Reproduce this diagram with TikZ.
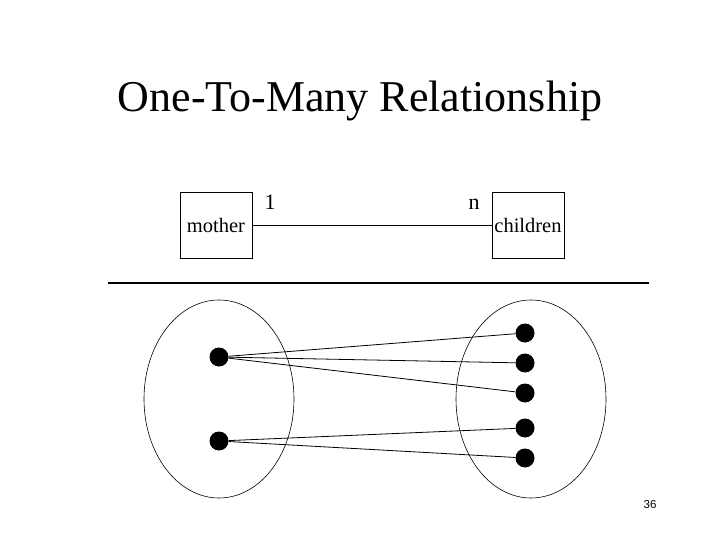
\documentclass[tikz,border=0pt]{standalone}
\usepackage{fontspec}
\setmainfont{Liberation Serif}
\setsansfont{Liberation Sans}
\usepackage{tikz}
\usetikzlibrary{shapes.geometric, positioning}

\begin{document}
\begin{tikzpicture}[
        x=1pt, y=-1pt,
        entity/.style={rectangle, draw, line width=0.8pt, minimum width=72pt, minimum height=66pt, inner sep=0pt, font=\fontsize{20.5}{24}\selectfont},
        card/.style={anchor=base, inner sep=0pt, font=\fontsize{22}{26}\selectfont},
        set/.style={ellipse, draw, line width=0.6pt, minimum width=150pt, minimum height=198pt, inner sep=0pt},
        dot/.style={circle, fill=black, minimum size=19pt, inner sep=0pt},
        link/.style={line width=0.8pt}
    ]
    \useasboundingbox (0,0) rectangle (720,540);

    \node (title) [anchor=base, font=\fontsize{44}{52}\selectfont] at (360,112) {One-To-Many Relationship};

    \node (mother) [entity] at (216,225) {mother};
    \node (children) [entity] at (528,225) {children};
    \node (one) [card] at (270,210) {1};
    \node (many) [card] at (474,210) {n};
    \draw[link] (mother) -- (children);

    \coordinate (sepL) at (108,283);
    \coordinate (sepR) at (649,283);
    \draw[line width=1.4pt] (sepL) -- (sepR);

    \node (motherset) [set] at (219,399) {};
    \node (childset) [set] at (531,399) {};

    \node (m1) [dot] at (219,357) {};
    \node (m2) [dot] at (219,441) {};
    \node (c1) [dot] at (525,333) {};
    \node (c2) [dot] at (525,363) {};
    \node (c3) [dot] at (525,393) {};
    \node (c4) [dot] at (525,428) {};
    \node (c5) [dot] at (525,458) {};

    \foreach \c in {c1,c2,c3}
        \draw[link] (m1) -- (\c);
    \foreach \c in {c4,c5}
        \draw[link] (m2) -- (\c);

    \node (page) [font=\sffamily\fontsize{11.5}{13}\selectfont] at (650,505) {36};
\end{tikzpicture}
\end{document}
